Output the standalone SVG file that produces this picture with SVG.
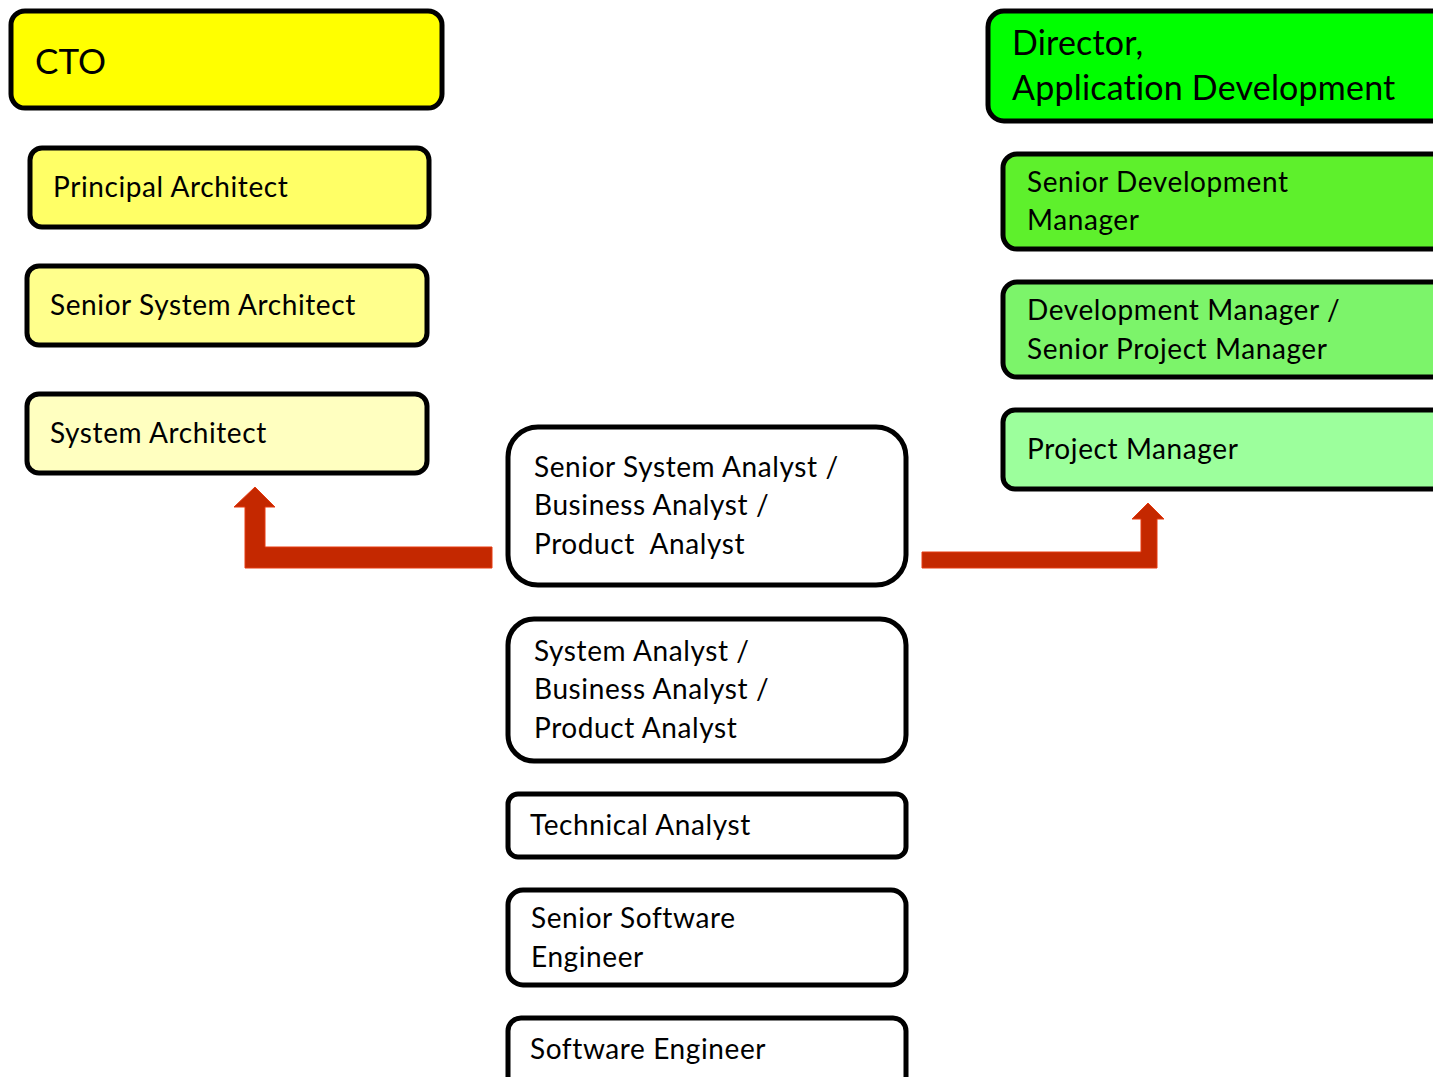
<svg xmlns="http://www.w3.org/2000/svg" width="1433" height="1077" viewBox="0 0 1433 1077">
<defs>
<style>
.box{stroke:#000;stroke-width:5}
.t{font-family:Lato,"Open Sans","Liberation Sans",sans-serif;font-size:28px;letter-spacing:0.6px;fill:#000}
.big{font-size:34px;letter-spacing:0.2px}
.arr{fill:#c42800;stroke:#e63a10;stroke-width:1}
</style>
</defs>
<rect width="1433" height="1077" fill="#fff"/>
<g id="cto"><rect class="box" x="11" y="11" width="431" height="97" rx="14" fill="#ffff00"/><text class="t" x="35" y="74" style="font-size:35px;letter-spacing:0">CTO</text></g>
<g id="principal-architect"><rect class="box" x="30" y="148" width="399" height="79" rx="12" fill="#ffff66"/><text class="t" x="53" y="197">Principal Architect</text></g>
<g id="senior-system-architect"><rect class="box" x="27" y="266" width="400" height="79" rx="12" fill="#ffff8c"/><text class="t" x="50" y="315">Senior System Architect</text></g>
<g id="system-architect"><rect class="box" x="27" y="394" width="400" height="79" rx="12" fill="#ffffc0"/><text class="t" x="50" y="443">System Architect</text></g>
<g id="director"><rect class="box" x="988" y="11" width="460" height="110" rx="16" fill="#00ff00"/><text class="t big" x="1012" y="55">Director,</text><text class="t big" x="1012" y="100">Application Development</text></g>
<g id="senior-development-manager"><rect class="box" x="1003" y="154" width="445" height="95" rx="14" fill="#5ef02c"/><text class="t" x="1027" y="192">Senior Development</text><text class="t" x="1027" y="230">Manager</text></g>
<g id="development-manager"><rect class="box" x="1003" y="282" width="445" height="95" rx="14" fill="#7cf46a"/><text class="t" x="1027" y="320">Development Manager /</text><text class="t" x="1027" y="359">Senior Project Manager</text></g>
<g id="project-manager"><rect class="box" x="1003" y="410" width="445" height="79" rx="12" fill="#9cff9c"/><text class="t" x="1027" y="459">Project Manager</text></g>
<g id="senior-system-analyst"><rect class="box" x="508" y="427" width="398" height="158" rx="30" fill="#fff"/><text class="t" x="534" y="477">Senior System Analyst /</text><text class="t" x="534" y="515">Business Analyst /</text><text class="t" x="534" y="554" xml:space="preserve">Product  Analyst</text></g>
<g id="system-analyst"><rect class="box" x="508" y="619" width="398" height="142" rx="26" fill="#fff"/><text class="t" x="534" y="661">System Analyst /</text><text class="t" x="534" y="699">Business Analyst /</text><text class="t" x="534" y="738">Product Analyst</text></g>
<g id="technical-analyst"><rect class="box" x="508" y="794" width="398" height="63" rx="10" fill="#fff"/><text class="t" x="530" y="835">Technical Analyst</text></g>
<g id="senior-software-engineer"><rect class="box" x="508" y="890" width="398" height="95" rx="15" fill="#fff"/><text class="t" x="531" y="928">Senior Software</text><text class="t" x="531" y="967">Engineer</text></g>
<g id="software-engineer"><rect class="box" x="508" y="1018" width="398" height="80" rx="13" fill="#fff"/><text class="t" x="530" y="1059">Software Engineer</text></g>
<g id="connectors">
<path class="arr" d="M492,547 L265,547 L265,507 L275,507 L255,487 L234,507 L245,507 L245,568 L492,568 Z"/>
<path class="arr" d="M922,552 L1141,552 L1141,519 L1132,519 L1148,503 L1164,519 L1157,519 L1157,568 L922,568 Z"/>
</g>
</svg>
